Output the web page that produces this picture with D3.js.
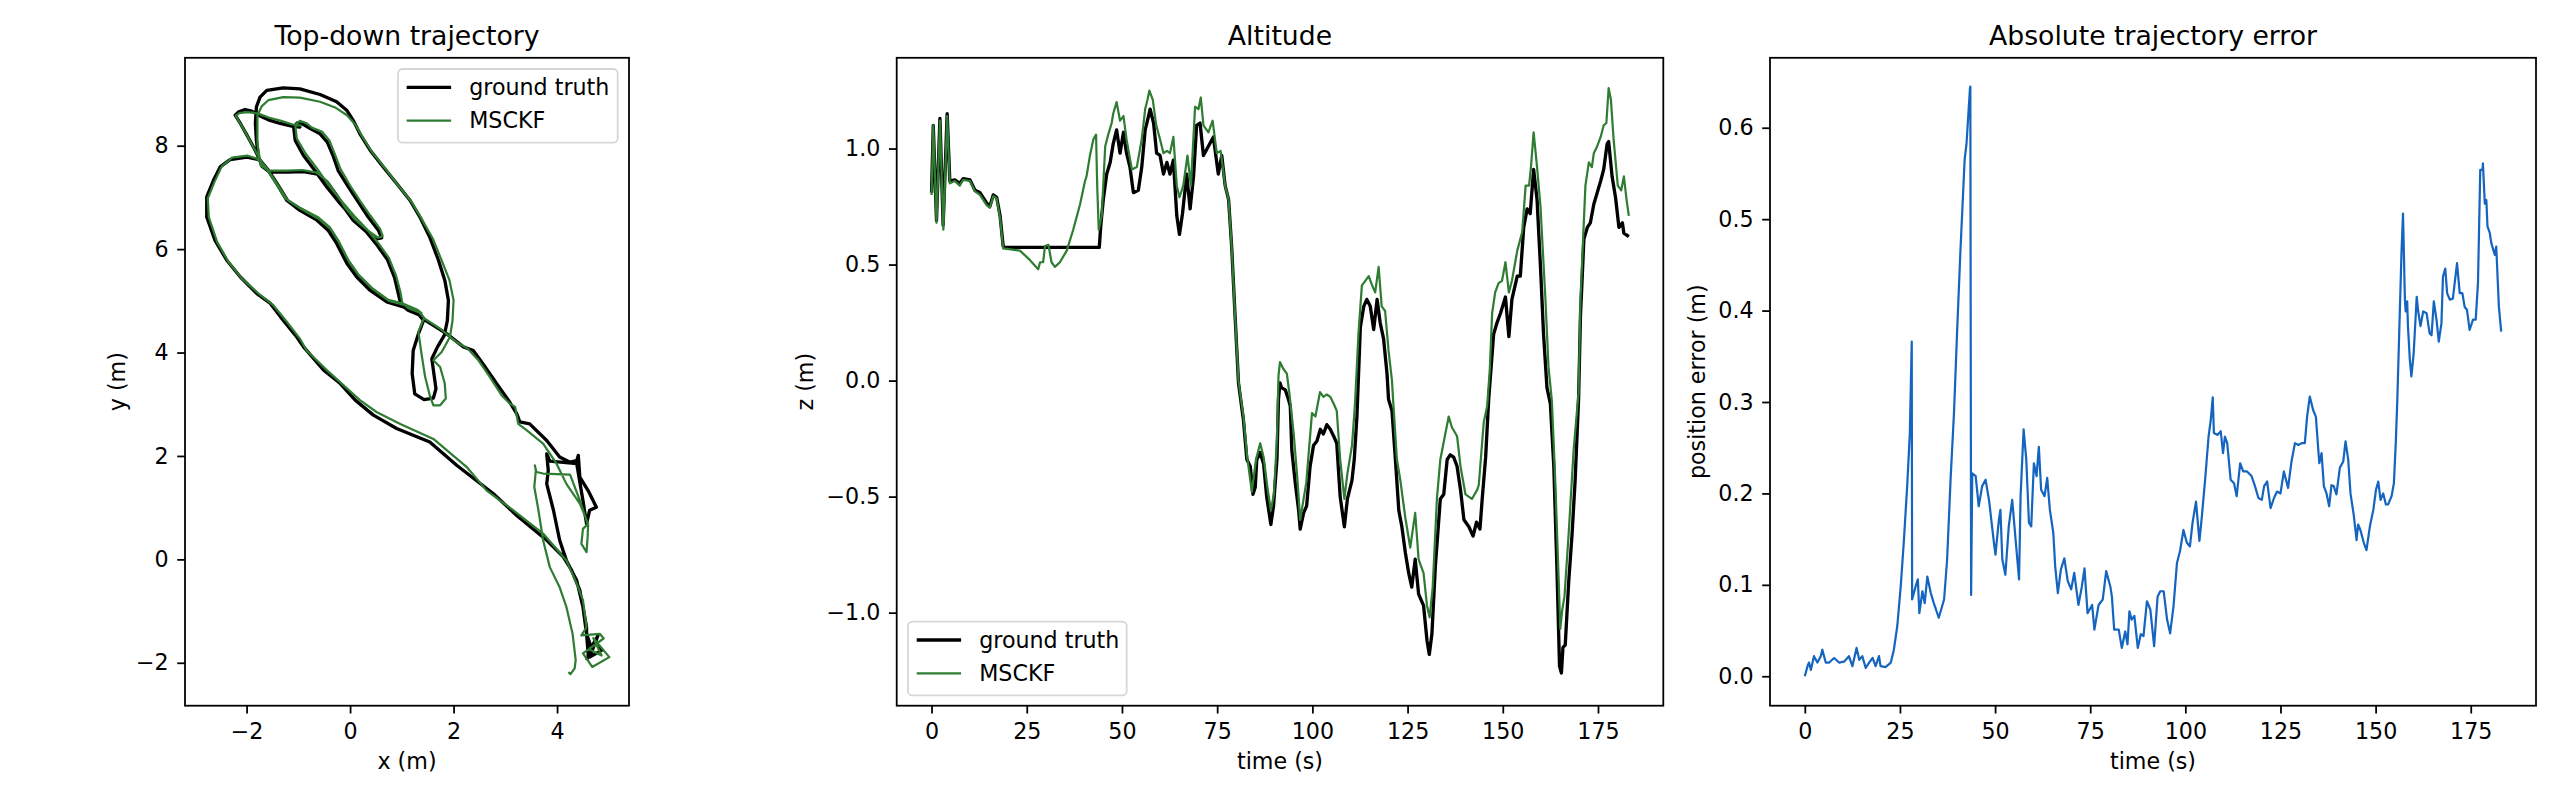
<!DOCTYPE html>
<html><head><meta charset="utf-8">
<script src="https://cdn.jsdelivr.net/npm/d3@7"></script>
<style>body{margin:0;background:#fff;} svg text{font-family:"DejaVu Sans",sans-serif;}</style>
</head><body><svg id="c" width="2560" height="800"></svg>
<script>
// ---------------- DATA ----------------
const panelTitles = ["Top-down trajectory", "Altitude", "Absolute trajectory error"];
const seriesNames = ["ground truth", "MSCKF"];
const trajXTicks = [-2, 0, 2, 4];
const trajYTicks = [-2, 0, 2, 4, 6, 8];
const timeTicks = [0, 25, 50, 75, 100, 125, 150, 175];
const altTicks = [-1.0, -0.5, 0.0, 0.5, 1.0];
const ateTicks = [0.0, 0.1, 0.2, 0.3, 0.4, 0.5, 0.6];

// top-down trajectory (x, y) in metres
const trajGroundTruth = [
[4.57,-1.95],[4.73,-1.57],[4.86,-1.76],[4.63,-1.89],[4.79,-1.47],[4.67,-1.73],[4.57,-1.44],
[4.57,-1.31],[4.50,-0.92],[4.44,-0.60],[4.28,-0.21],[4.12,0.05],[3.80,0.37],[3.22,0.85],[2.77,1.27],[2.06,1.82],[1.54,2.27],[0.90,2.53],[0.45,2.79],[0.10,3.08],
[-0.19,3.40],[-0.51,3.66],[-0.90,4.11],[-1.03,4.30],[-1.29,4.62],[-1.54,4.95],[-1.80,5.14],[-2.12,5.46],[-2.38,5.78],[-2.61,6.17],[-2.77,6.62],[-2.77,7.01],[-2.64,7.33],[-2.51,7.59],[-2.32,7.73],[-1.99,7.78],[-1.77,7.73],
[-1.61,7.56],[-1.42,7.27],[-1.22,6.94],[-0.97,6.75],[-0.64,6.56],[-0.42,6.36],[-0.26,6.11],[-0.06,5.72],[0.13,5.46],[0.39,5.20],[0.71,4.98],[1.03,4.88],[1.29,4.78],[1.42,4.62],
[1.32,4.36],[1.22,4.04],[1.20,3.59],[1.25,3.20],[1.43,3.09],[1.61,3.12],[1.66,3.30],[1.61,3.66],[1.58,3.88],[1.69,4.11],[1.82,4.33],[1.88,4.62],[1.90,5.01],[1.83,5.40],[1.71,5.78],[1.54,6.23],[1.35,6.62],[1.16,6.94],[0.90,7.27],[0.64,7.59],[0.39,7.91],[0.19,8.23],[0.06,8.49],[-0.06,8.68],[-0.26,8.85],[-0.58,8.99],[-0.97,9.10],[-1.29,9.12],[-1.61,9.07],[-1.74,8.94],[-1.81,8.75],[-1.83,8.43],[-1.81,8.10],[-1.77,7.78],
[-1.70,7.60],[-1.55,7.49],[-1.20,7.49],[-0.90,7.50],[-0.63,7.45],[-0.43,7.28],[-0.25,7.03],
[-0.10,6.78],[0.06,6.56],[0.32,6.33],[0.51,6.20],[0.61,6.22],
[0.55,6.36],[0.35,6.62],[0.16,6.91],[-0.03,7.20],[-0.23,7.52],[-0.33,7.81],[-0.44,8.07],[-0.58,8.23],[-0.77,8.33],[-0.90,8.41],[-1.02,8.44],[-1.09,8.36],
[-1.06,8.10],[-0.90,7.81],[-0.68,7.52],[-0.45,7.20],[-0.19,6.88],[0.06,6.60],[0.30,6.35],[0.52,6.08],[0.72,5.80],[0.86,5.45],[0.93,5.15],[0.98,4.93],[1.12,4.82],[1.35,4.72],
[1.29,4.78],[1.03,4.88],[0.71,4.98],[0.39,5.20],[0.13,5.46],[-0.06,5.72],[-0.26,6.11],[-0.42,6.36],[-0.64,6.56],[-0.97,6.75],[-1.22,6.94],[-1.42,7.27],[-1.61,7.56],[-1.74,7.72],
[-1.87,7.98],[-1.99,8.20],[-2.12,8.43],[-2.22,8.59],
[-2.16,8.65],[-2.03,8.70],[-1.90,8.67],[-1.77,8.59],[-1.58,8.50],[-1.35,8.43],[-1.13,8.38],[-0.97,8.36],
[-1.13,8.38],[-1.35,8.43],[-1.58,8.50],[-1.77,8.59],[-1.90,8.67],[-2.03,8.70],[-2.16,8.65],[-2.22,8.59],
[-2.12,8.43],[-1.99,8.20],[-1.87,7.98],[-1.74,7.72],
[-1.59,7.54],[-1.40,7.25],[-1.20,6.93],[-0.95,6.77],[-0.61,6.58],[-0.39,6.38],[-0.23,6.13],[-0.03,5.74],[0.16,5.48],[0.42,5.22],[0.73,5.00],[1.05,4.90],[1.31,4.80],[1.44,4.63],
[1.87,4.36],[2.19,4.11],[2.38,4.04],[2.57,3.78],[2.83,3.40],[3.06,3.08],[3.22,2.82],[3.28,2.66],[3.47,2.62],[3.80,2.30],[4.05,1.98],[4.25,1.88],[4.38,1.91],[4.41,2.01],[4.44,1.59],[4.60,1.33],[4.76,1.01],[4.63,0.95],[4.57,0.69],
[4.50,1.14],[4.38,1.85],[3.86,1.90],[3.80,2.04],
[3.83,1.72],[3.80,1.46],[3.93,0.95],[4.05,0.37],[4.18,-0.02],[4.38,-0.41],[4.50,-0.92],[4.57,-1.44],[4.60,-1.82],[4.60,-1.92]
];
const trajMsckf = [
[4.60,-1.73],[4.86,-1.86],[4.70,-1.52],[5.01,-1.89],[4.68,-2.08],[4.50,-1.82],[4.90,-1.53],[4.83,-1.44],[4.47,-1.47],[4.57,-1.31],
[4.50,-0.79],[4.38,-0.47],[4.18,-0.02],[3.73,0.50],[3.15,0.95],[2.64,1.33],[2.25,1.79],[1.61,2.33],[0.97,2.62],[0.51,2.85],[0.19,3.08],
[-0.13,3.37],[-0.45,3.66],[-0.84,4.04],[-0.97,4.27],[-1.22,4.59],[-1.48,4.91],[-1.77,5.14],[-2.09,5.43],[-2.35,5.75],[-2.57,6.14],[-2.73,6.62],[-2.75,6.98],[-2.62,7.30],[-2.48,7.60],[-2.28,7.77],[-1.99,7.81],[-1.80,7.75],
[-1.64,7.59],[-1.45,7.30],[-1.25,6.98],[-0.97,6.80],[-0.61,6.61],[-0.39,6.42],[-0.23,6.17],[-0.03,5.78],[0.16,5.51],[0.42,5.25],[0.74,5.02],[1.04,4.94],[1.29,4.83],[1.43,4.67],
[1.32,4.40],[1.38,3.98],[1.45,3.53],[1.54,3.17],[1.61,2.98],[1.74,2.98],[1.85,3.11],[1.83,3.40],[1.74,3.72],[1.61,3.85],[1.77,4.01],[1.93,4.30],[1.98,4.62],[2.00,5.01],[1.92,5.40],[1.77,5.78],[1.60,6.20],[1.38,6.59],[1.19,6.91],[0.93,7.23],[0.68,7.56],[0.42,7.88],[0.24,8.17],[0.10,8.41],[-0.06,8.59],[-0.29,8.74],[-0.58,8.85],[-0.97,8.93],[-1.29,8.94],[-1.58,8.88],[-1.71,8.76],[-1.79,8.59],[-1.79,8.30],[-1.79,8.04],[-1.75,7.78],
[-1.73,7.62],[-1.58,7.52],[-1.22,7.52],[-0.92,7.53],[-0.64,7.48],[-0.44,7.31],[-0.26,7.06],
[-0.10,6.81],[0.08,6.59],[0.34,6.36],[0.54,6.22],[0.63,6.25],
[0.58,6.39],[0.39,6.65],[0.19,6.94],[0.00,7.23],[-0.19,7.56],[-0.30,7.85],[-0.40,8.10],[-0.54,8.27],[-0.74,8.35],[-0.85,8.44],[-0.97,8.48],[-1.06,8.40],
[-1.03,8.14],[-0.86,7.85],[-0.64,7.56],[-0.41,7.23],[-0.15,6.91],[0.09,6.63],[0.33,6.38],[0.55,6.11],[0.75,5.83],[0.89,5.48],[0.97,5.18],[1.01,4.96],[1.14,4.85],[1.38,4.76],
[1.29,4.83],[1.04,4.94],[0.74,5.02],[0.42,5.25],[0.16,5.51],[-0.03,5.78],[-0.23,6.17],[-0.39,6.42],[-0.61,6.61],[-0.97,6.80],[-1.25,6.98],[-1.45,7.30],[-1.64,7.59],[-1.72,7.70],
[-1.85,7.94],[-1.98,8.18],[-2.11,8.41],[-2.21,8.58],
[-2.14,8.63],[-2.01,8.65],[-1.88,8.64],[-1.75,8.61],[-1.56,8.54],[-1.33,8.48],[-1.11,8.41],[-0.95,8.39],
[-1.11,8.41],[-1.33,8.48],[-1.56,8.54],[-1.75,8.61],[-1.88,8.64],[-2.01,8.65],[-2.14,8.63],[-2.21,8.58],
[-2.11,8.41],[-1.98,8.18],[-1.85,7.94],[-1.72,7.70],
[-1.60,7.55],[-1.41,7.26],[-1.21,6.95],[-0.95,6.78],[-0.60,6.58],[-0.38,6.39],[-0.22,6.14],[-0.02,5.75],[0.17,5.49],[0.43,5.23],[0.75,5.00],[1.05,4.92],[1.31,4.81],[1.45,4.65],
[1.74,4.46],[2.06,4.20],[2.28,4.07],[2.48,3.85],[2.70,3.53],[2.93,3.17],[3.09,3.01],[3.19,2.95],[3.25,2.62],[3.41,2.50],[3.73,2.24],[3.99,1.85],[4.18,1.46],[4.44,1.08],[4.60,0.69],[4.50,0.59],[4.47,0.30],[4.57,0.14],[4.59,0.43],[4.60,0.66],[4.44,1.14],[4.28,1.56],[4.25,1.64],[3.73,1.66],[3.60,1.69],[3.57,1.82],[3.59,1.72],[3.56,1.40],[3.64,0.95],[3.73,0.37],[3.86,-0.15],[4.05,-0.54],[4.18,-0.92],[4.30,-1.44],[4.36,-1.95],[4.34,-2.11],[4.26,-2.22],[4.22,-2.18]
];

// altitude (time s, z m)
const altGroundTruth = [
[0,0.81],[0.45,1.10],[1.3,0.69],[2.2,1.13],[3.05,0.67],[4.1,1.15],[4.8,0.86],[6.1,0.865],[7.4,0.85],[8.3,0.87],[10.1,0.865],[11.4,0.82],[12.7,0.81],[14.5,0.765],[15.3,0.75],[16.2,0.80],[17.1,0.79],[18.0,0.71],[18.8,0.58],[19.2,0.574],[44.05,0.574],
[44.4,0.66],[45.1,0.78],[46.0,0.89],[46.9,0.94],[47.7,1.02],[48.6,1.08],[49.5,0.98],[50.4,1.07],[51.2,0.98],[52.1,0.92],[53.0,0.81],[54.3,0.82],[55.2,0.92],[56.1,1.08],[56.7,1.12],[57.4,1.17],[58.3,1.11],[59.1,0.98],[60.0,0.97],[60.9,0.89],[61.8,0.94],[62.6,0.89],[63.5,0.95],[64.4,0.71],[65.1,0.63],[65.9,0.72],[67.0,0.89],[67.9,0.74],[68.8,0.88],[69.6,1.10],[70.5,1.11],[71.4,0.97],[72.7,1.01],[74.0,1.05],[75.3,0.89],[76.2,0.97],[77.1,0.84],[78.0,0.78],[78.8,0.58],[79.7,0.28],[80.6,-0.01],
[81.0,-0.06],[81.9,-0.17],[82.8,-0.34],[83.7,-0.37],[84.4,-0.49],[85.0,-0.46],[85.4,-0.34],[86.3,-0.31],[87.2,-0.36],[88.0,-0.50],[89.1,-0.62],[89.8,-0.54],[90.7,-0.34],[91.1,-0.08],[91.5,-0.01],[91.9,-0.03],[92.9,-0.04],[93.7,-0.08],[94.2,-0.11],[94.6,-0.30],[95.5,-0.44],[96.4,-0.56],[96.8,-0.64],[97.7,-0.57],[98.5,-0.54],[99.4,-0.37],[100.3,-0.28],[101.2,-0.26],[102.1,-0.21],[102.9,-0.23],[103.8,-0.19],[104.7,-0.21],[105.6,-0.24],[106.4,-0.27],[107.3,-0.50],[108.4,-0.63],[109.2,-0.51],[110.4,-0.43],[111.0,-0.34],[111.7,-0.155],
[112.6,0.23],[113.5,0.32],[114.3,0.35],[115.2,0.32],[116.1,0.22],[117.0,0.35],[117.8,0.25],[118.7,0.18],[119.6,0.03],[120.0,-0.08],[120.9,-0.13],[121.8,-0.34],[122.7,-0.56],[123.5,-0.63],[124.4,-0.74],[125.3,-0.83],[126.1,-0.89],[127.0,-0.77],[127.9,-0.92],[129.2,-0.97],[130.1,-1.12],[130.7,-1.18],[131.4,-1.09],[132.3,-0.80],[133.6,-0.51],[134.5,-0.49],[135.4,-0.34],[136.2,-0.32],[137.1,-0.33],[138.0,-0.37],[138.9,-0.47],[139.8,-0.60],[141.1,-0.63],[142.2,-0.67],[143.1,-0.61],[144.0,-0.64],[144.6,-0.51],[145.5,-0.33],[146.3,-0.08],
[147.6,0.20],[148.5,0.25],[149.4,0.29],[150.7,0.36],[151.6,0.19],[152.4,0.35],[153.8,0.45],[154.6,0.45],[155.5,0.66],[156.4,0.74],[157.2,0.72],[158.1,0.91],[159.0,0.78],[159.9,0.49],[160.7,0.20],[161.6,-0.03],[162.5,-0.10],[163.4,-0.37],[164.2,-0.80],[164.9,-1.23],[165.4,-1.26],[165.8,-1.15],[166.4,-1.14],[167.3,-0.87],[168.2,-0.66],[169.0,-0.43],[169.9,-0.08],
[170.4,0.28],[171.3,0.61],[172.2,0.66],[173.0,0.68],[173.9,0.76],[174.8,0.81],[175.7,0.86],[176.5,0.91],[177.4,1.02],[177.8,1.03],[178.7,0.88],[179.6,0.79],[180.5,0.66],[181.4,0.68],[181.8,0.635],[183.1,0.62]
];
const altMsckf = [
[0,0.80],[0.45,1.10],[1.3,0.68],[2.2,1.12],[3.1,0.65],[4.1,1.14],[4.8,0.85],[6.1,0.86],[7.4,0.84],[8.3,0.865],[10.1,0.86],[11.4,0.815],[12.7,0.80],[14.5,0.755],[15.3,0.745],[16.2,0.795],[17.1,0.785],[18.0,0.70],[18.8,0.57],
[23.2,0.56],[25.8,0.52],[28.0,0.48],[28.5,0.51],[29.3,0.51],[29.8,0.58],[30.7,0.585],[31.5,0.51],[32.4,0.49],[33.7,0.51],[35.5,0.56],[37.2,0.65],[39.0,0.76],[40.3,0.86],[40.7,0.88],[41.6,0.97],[42.5,1.04],[43.2,1.06],[43.5,0.84],[43.9,0.65],[44.7,0.71],
[45.6,1.01],[46.4,1.06],[47.3,1.11],[47.7,1.15],[48.6,1.20],[49.5,1.12],[50.4,1.14],[51.2,1.04],[52.6,0.91],[53.9,0.92],[55.2,1.04],[56.1,1.17],[56.7,1.21],[57.2,1.25],[58.1,1.21],[59.0,1.10],[60.0,1.04],[60.9,0.98],[61.8,0.99],[62.6,0.98],[63.5,1.05],[64.4,0.84],[65.1,0.79],[66.1,0.84],[67.2,0.97],[68.1,0.84],[69.2,1.18],[70.1,1.17],[70.7,1.22],[71.4,1.10],[72.7,1.07],[73.8,1.12],[74.9,0.98],[75.9,0.99],[77.1,0.84],[78.0,0.78],[78.8,0.58],[79.7,0.28],[80.6,0.00],
[81.0,-0.05],[81.9,-0.155],[82.9,-0.33],[84.1,-0.48],[85.2,-0.34],[86.3,-0.27],[87.2,-0.33],[88.2,-0.46],[89.1,-0.56],[89.9,-0.49],[90.7,-0.25],[91.1,0.02],[91.5,0.08],[92.4,0.05],[93.3,0.03],[94.0,-0.06],[95.1,-0.23],[96.0,-0.41],[96.8,-0.60],[97.7,-0.51],[98.4,-0.44],[99.9,-0.14],[100.8,-0.155],[102.0,-0.05],[102.9,-0.07],[103.8,-0.06],[104.7,-0.07],[105.6,-0.10],[106.4,-0.13],[107.3,-0.34],[108.4,-0.51],[109.2,-0.40],[110.4,-0.28],[111.2,-0.10],
[112.1,0.20],[113.0,0.41],[113.9,0.43],[114.8,0.45],[115.7,0.41],[116.5,0.38],[117.4,0.49],[118.2,0.32],[119.1,0.30],[120.0,0.13],[120.9,0.00],[121.3,-0.11],[122.2,-0.34],[123.1,-0.43],[124.4,-0.59],[125.7,-0.72],[127.0,-0.57],[127.9,-0.77],[129.2,-0.83],[130.1,-0.97],[130.8,-1.02],[131.6,-0.89],[132.7,-0.51],[133.6,-0.34],[134.9,-0.23],[135.8,-0.155],[136.6,-0.20],[138.0,-0.24],[138.9,-0.37],[140.2,-0.49],[141.9,-0.51],[143.3,-0.47],[143.7,-0.45],[145.0,-0.18],[145.9,-0.11],
[146.6,0.05],[147.2,0.29],[148.0,0.38],[148.9,0.42],[149.8,0.43],[150.7,0.51],[151.6,0.38],[152.4,0.43],[153.8,0.56],[155.1,0.64],[156.0,0.84],[156.9,0.84],[157.4,0.92],[158.1,1.07],[159.0,0.92],[159.9,0.75],[161.2,0.35],[162.0,0.06],[162.9,-0.09],[163.8,-0.44],[164.7,-0.87],[165.1,-1.07],[165.6,-0.99],[166.2,-0.93],[167.3,-0.66],[168.6,-0.30],[169.9,-0.05],
[170.4,0.35],[171.7,0.84],[172.6,0.94],[173.4,0.92],[173.9,0.98],[174.8,1.01],[175.7,1.05],[176.5,1.10],[177.2,1.11],[177.8,1.26],[178.4,1.21],[179.1,1.04],[180.2,0.84],[181.1,0.82],[181.8,0.88],[182.5,0.78],[183.1,0.71]
];

// absolute trajectory error (time s, error m)
const ateSeries = [
[0,0],[0.7,0.011],[1.1,0.015],[1.6,0.007],[2.4,0.022],[3.3,0.015],[4.2,0.022],[4.6,0.029],[5.5,0.015],[6.4,0.015],[7.7,0.020],[9.0,0.015],[10.3,0.016],[11.6,0.022],[12.5,0.011],[13.6,0.031],[14.3,0.018],[15.1,0.022],[16.0,0.009],[16.9,0.015],[17.8,0.020],[18.6,0.011],[19.5,0.022],[19.9,0.011],[21.2,0.010],[22.6,0.015],[23.4,0.029],[24.3,0.055],[25.2,0.098],[26.0,0.146],[26.9,0.208],[27.6,0.266],[28.1,0.366],
[28.2,0.084],[29.1,0.098],[29.7,0.106],[30.1,0.069],[30.9,0.093],[31.5,0.080],[32.2,0.109],[33.1,0.091],[33.9,0.080],[35.2,0.064],[36.6,0.084],[37.4,0.128],[38.3,0.215],[39.2,0.288],[40.0,0.375],[40.9,0.466],[42.0,0.565],[42.5,0.583],[43.4,0.643],[43.5,0.645],
[43.7,0.089],[44.0,0.222],[44.9,0.219],[45.7,0.186],[46.6,0.208],[47.5,0.215],[48.4,0.193],[49.7,0.146],[50.1,0.133],[51.0,0.171],[51.4,0.182],[51.9,0.128],[52.7,0.111],[53.6,0.164],[54.5,0.193],[55.4,0.149],[56.3,0.106],[56.7,0.197],[57.5,0.270],[58.2,0.237],[58.9,0.168],[59.5,0.164],[60.2,0.233],[60.9,0.219],[61.5,0.251],[62.1,0.204],[63.0,0.197],[63.7,0.217],[64.4,0.182],[65.3,0.157],[65.8,0.120],[66.5,0.091],[67.3,0.117],[68.2,0.129],[69.1,0.104],[70.0,0.095],[70.8,0.113],[71.9,0.078],[72.8,0.098],[73.5,0.118],[74.3,0.069],[75.5,0.078],[76.1,0.051],[77.2,0.078],[78.3,0.084],[79.2,0.115],[80.3,0.098],[80.7,0.087],[81.3,0.051],[82.5,0.051],[83.3,0.031],[84.2,0.049],[84.8,0.035],[85.3,0.071],[85.9,0.062],[86.6,0.066],[87.5,0.031],[88.3,0.046],[89.0,0.044],[89.9,0.082],[90.8,0.073],[91.8,0.033],[92.7,0.087],[93.4,0.093],[94.3,0.093],[95.2,0.062],[96.0,0.047],[96.9,0.077],[97.8,0.124],[98.6,0.137],[99.5,0.160],[100.4,0.146],[101.2,0.142],[101.9,0.168],[102.8,0.191],[103.7,0.148],[104.3,0.173],[105.2,0.215],[106.1,0.262],[106.7,0.281],[107.2,0.305],
[107.5,0.266],[108.5,0.264],[109.3,0.268],[109.9,0.244],[110.4,0.262],[111.0,0.255],[111.9,0.215],[112.8,0.211],[113.5,0.197],[114.4,0.233],[115.2,0.224],[116.2,0.224],[117.4,0.219],[118.3,0.208],[119.2,0.195],[120.1,0.193],[120.7,0.208],[121.5,0.213],[122.4,0.184],[123.3,0.195],[124.1,0.202],[125.0,0.200],[125.9,0.224],[127.0,0.206],[127.9,0.235],[128.8,0.255],[129.7,0.253],[130.6,0.255],[131.4,0.255],[132.0,0.284],[132.7,0.306],[133.6,0.291],[134.3,0.284],[135.2,0.233],[135.8,0.244],[136.4,0.208],[137.1,0.200],[137.8,0.186],[138.4,0.209],[139.0,0.208],[139.7,0.199],[140.6,0.228],[141.5,0.235],[142.1,0.257],[142.8,0.237],[143.4,0.200],[144.3,0.175],[145.0,0.149],[145.4,0.166],[146.0,0.160],[146.9,0.146],[147.6,0.138],[148.5,0.164],[149.4,0.182],[150.1,0.204],[150.7,0.213],[151.3,0.193],[152.0,0.200],[152.7,0.188],[153.3,0.188],[154.2,0.197],[154.8,0.211],[155.3,0.255],[155.7,0.302],
[156.2,0.375],[156.8,0.463],[157.2,0.506],[157.7,0.412],[157.9,0.399],[158.3,0.410],[158.5,0.383],[159.0,0.346],[159.4,0.328],[160.0,0.353],[160.8,0.415],[161.2,0.399],[161.8,0.383],[162.5,0.399],[163.4,0.397],[164.2,0.375],[164.7,0.373],[165.3,0.410],[166.0,0.390],[166.6,0.366],[167.3,0.386],[167.7,0.437],[168.3,0.446],[168.8,0.419],[169.5,0.412],[170.3,0.413],[171.4,0.452],[172.1,0.419],[172.8,0.419],[173.4,0.404],[174.0,0.401],[174.7,0.379],[175.6,0.390],[176.3,0.390],[176.9,0.430],[177.5,0.554],[178.1,0.554],[178.2,0.561],[178.7,0.517],[179.1,0.521],[179.4,0.492],[180.0,0.485],[180.4,0.474],[181.3,0.461],[181.7,0.470],[182.4,0.404],[183.0,0.377]
];

// ---------------- DRAWING ----------------
const COL_GT = "#000000", COL_MS = "#2e7d32", COL_ATE = "#1565c0";
const FS = 22.2, TFS = 26.7, LW_SPINE = 1.78;
const TOP = 57.8, BOTTOM = 705.7;
const svg = d3.select("#c");

function makeAxes(box, xDom, yDom, xTicks, yTicks, xFmt, yFmt, idx) {
  const g = svg.append("g");
  const x = d3.scaleLinear().domain(xDom).range([box.l, box.r]);
  const y = d3.scaleLinear().domain(yDom).range([BOTTOM, TOP]);
  g.append("clipPath").attr("id", "clip" + idx).append("rect")
    .attr("x", box.l).attr("y", TOP).attr("width", box.r - box.l).attr("height", BOTTOM - TOP);
  const plot = g.append("g").attr("clip-path", `url(#clip${idx})`);
  const style = s => {
    s.select(".domain").remove();
    s.attr("font-family", "DejaVu Sans").attr("font-size", FS);
    s.selectAll("line").attr("stroke", "#000").attr("stroke-width", LW_SPINE);
    s.selectAll("text").attr("fill", "#000");
  };
  g.append("g").attr("transform", `translate(0,${BOTTOM})`)
    .call(d3.axisBottom(x).tickValues(xTicks).tickFormat(xFmt).tickSizeInner(7.8).tickSizeOuter(0).tickPadding(10.2))
    .call(style);
  g.append("g").attr("transform", `translate(${box.l},0)`)
    .call(d3.axisLeft(y).tickValues(yTicks).tickFormat(yFmt).tickSizeInner(7.8).tickSizeOuter(0).tickPadding(8.6))
    .call(style);
  const frame = () => g.append("rect").attr("x", box.l).attr("y", TOP)
    .attr("width", box.r - box.l).attr("height", BOTTOM - TOP)
    .attr("fill", "none").attr("stroke", "#000").attr("stroke-width", LW_SPINE);
  g.append("text").attr("x", (box.l + box.r) / 2).attr("y", 45).attr("text-anchor", "middle")
    .attr("font-size", TFS).attr("fill", "#000").text(panelTitles[idx]);
  return {g, x, y, plot, frame};
}

function addPath(plot, data, xs, ys, color, w) {
  plot.append("path").datum(data)
    .attr("d", d3.line().x(d => xs(d[0])).y(d => ys(d[1])))
    .attr("fill", "none").attr("stroke", color).attr("stroke-width", w)
    .attr("stroke-linejoin", "round").attr("stroke-linecap", "butt");
}

function xLabel(cx, txt) {
  svg.append("text").attr("x", cx).attr("y", 769).attr("text-anchor", "middle")
    .attr("font-size", FS).attr("fill", "#000").text(txt);
}
function yLabel(bx, txt) {
  svg.append("text").attr("transform", `translate(${bx},${(TOP + BOTTOM) / 2}) rotate(-90)`)
    .attr("text-anchor", "middle").attr("font-size", FS).attr("fill", "#000").text(txt);
}

function legend(x0, y0, w) {
  const g = svg.append("g");
  g.append("rect").attr("x", x0).attr("y", y0).attr("width", w).attr("height", 73.6)
    .attr("rx", 4.4).attr("fill", "#fff").attr("fill-opacity", 0.8)
    .attr("stroke", "#cccccc").attr("stroke-opacity", 0.8).attr("stroke-width", 1.8);
  const rows = [{c: COL_GT, w: 3.33}, {c: COL_MS, w: 2.22}];
  rows.forEach((r, i) => {
    const cy = y0 + 18.3 + i * 33.4;
    g.append("line").attr("x1", x0 + 8.7).attr("x2", x0 + 53.1).attr("y1", cy).attr("y2", cy)
      .attr("stroke", r.c).attr("stroke-width", r.w);
    g.append("text").attr("x", x0 + 71.2).attr("y", cy).attr("dy", "0.35em")
      .attr("font-size", FS).attr("fill", "#000").text(seriesNames[i]);
  });
}

const fmtInt = d3.format("d"), fmt1 = d3.format(".1f");

// Panel 1: top-down trajectory
{
  const A = makeAxes({l: 185, r: 629}, [-3.19, 5.39], [-2.83, 9.70], trajXTicks, trajYTicks, fmtInt, fmtInt, 0);
  addPath(A.plot, trajGroundTruth, A.x, A.y, COL_GT, 3.33);
  addPath(A.plot, trajMsckf, A.x, A.y, COL_MS, 2.22);
  A.frame();
  xLabel(407, "x (m)");
  yLabel(125, "y (m)");
  legend(398, 69, 219.7);
}
// Panel 2: altitude
{
  const A = makeAxes({l: 896.7, r: 1663.3}, [-9.15, 192.15], [-1.401, 1.391], timeTicks, altTicks, fmtInt, fmt1, 1);
  addPath(A.plot, altGroundTruth, A.x, A.y, COL_GT, 3.33);
  addPath(A.plot, altMsckf, A.x, A.y, COL_MS, 2.22);
  A.frame();
  xLabel(1280, "time (s)");
  yLabel(813, "z (m)");
  legend(908, 621.7, 218.7);
}
// Panel 3: ATE
{
  const A = makeAxes({l: 1770, r: 2536}, [-9.15, 192.15], [-0.0322, 0.6765], timeTicks, ateTicks, fmtInt, fmt1, 2);
  addPath(A.plot, ateSeries, A.x, A.y, COL_ATE, 2.22);
  A.frame();
  xLabel(2153, "time (s)");
  yLabel(1705, "position error (m)");
}
</script></body></html>
